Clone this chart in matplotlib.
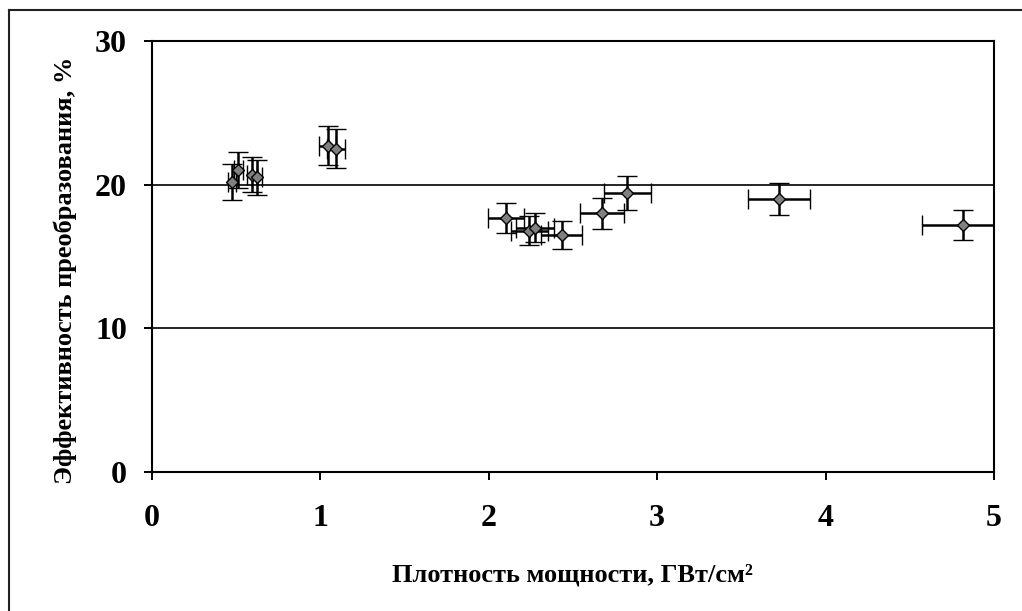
import matplotlib
matplotlib.use("Agg")
import matplotlib.pyplot as plt
from matplotlib.lines import Line2D

# Power density, GW/cm^2, and conversion efficiency, %
power_density = [0.473, 0.512, 0.592, 0.625, 1.043, 1.093, 2.102, 2.241,
                 2.274, 2.433, 2.674, 2.822, 3.723, 4.814]
efficiency = [20.2, 21.0, 20.7, 20.5, 22.7, 22.5, 17.7, 16.8,
              17.0, 16.5, 18.0, 19.4, 19.0, 17.2]
power_err = [0.024, 0.026, 0.030, 0.031, 0.052, 0.055, 0.105, 0.112,
             0.114, 0.120, 0.130, 0.140, 0.186, 0.240]
efficiency_err = [1.25, 1.25, 1.20, 1.24, 1.36, 1.36, 1.05, 1.00,
                  1.02, 0.98, 1.07, 1.18, 1.13, 1.02]

x_ticks = [0, 1, 2, 3, 4, 5]
y_ticks = [0, 10, 20, 30]

plt.rcParams["font.family"] = ["Liberation Serif", "DejaVu Serif"]
plt.rcParams["font.weight"] = "bold"

fig = plt.figure(figsize=(10.22, 6.11), dpi=100)
ax = fig.add_axes([0.1487, 0.2275, 0.8239, 0.7054])

for yv in y_ticks[1:-1]:
    ax.axhline(yv, color="black", lw=1.2, zorder=1)

ax.errorbar(power_density, efficiency, xerr=power_err, yerr=efficiency_err,
            fmt="D", ms=6.5, mfc="#808080", mec="black", mew=1.0,
            ecolor="black", elinewidth=1.8, capsize=7, capthick=1.8,
            zorder=3)

ax.set_xlim(0, 5)
ax.set_ylim(0, 30)
ax.set_xticks(x_ticks)
ax.set_yticks(y_ticks)
ax.tick_params(axis="both", direction="out", length=6, width=1.4,
               labelsize=23, color="black")
ax.tick_params(axis="x", pad=17)
ax.tick_params(axis="y", pad=12)
for lab in ax.get_xticklabels() + ax.get_yticklabels():
    lab.set_fontweight("bold")
for sp in ax.spines.values():
    sp.set_linewidth(1.5)
    sp.set_color("black")

fig.text(0.56, 0.059, "Плотность мощности, ГВт/см²", ha="center",
         va="center", fontsize=19, fontweight="bold")
fig.text(0.064, 0.558, "Эффективность преобразования, %", ha="center",
         va="center", rotation=90, fontsize=19, fontweight="bold")

# Outer frame around the chart
fig.add_artist(Line2D([9 / 1022, 1.01], [1 - 10 / 611, 1 - 10 / 611],
                      transform=fig.transFigure, color="#222222", lw=1.5))
fig.add_artist(Line2D([9 / 1022, 9 / 1022], [-0.01, 1 - 10 / 611],
                      transform=fig.transFigure, color="#222222", lw=1.5))

fig.savefig("out.png", dpi=100)
